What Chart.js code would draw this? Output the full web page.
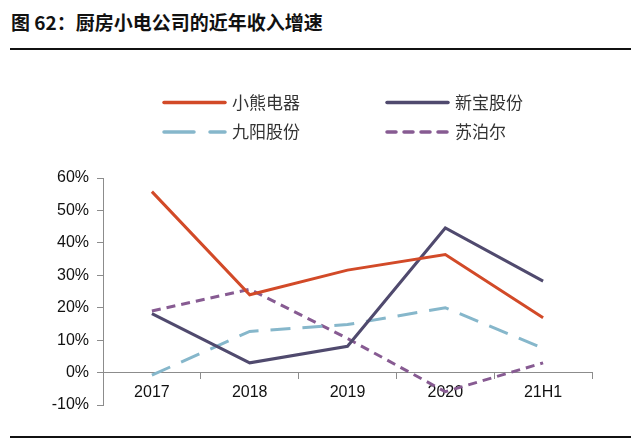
<!DOCTYPE html>
<html><head><meta charset="utf-8">
<script src="https://cdn.jsdelivr.net/npm/chart.js@4"></script>
<style>
html,body{margin:0;padding:0;background:#fff;}
#wrap{position:relative;width:641px;height:443px;overflow:hidden;}
#title{position:absolute;left:11px;top:8px;font-family:"Noto Sans CJK SC","Liberation Sans",sans-serif;font-weight:bold;font-size:19px;color:#111;letter-spacing:0px;}
.rule{position:absolute;left:10px;width:621px;height:2px;background:#111;}
canvas{position:absolute;left:0;top:0;}
</style></head>
<body><div id="wrap">
<div id="title">图 62：厨房小电公司的近年收入增速</div>
<div class="rule" style="top:48px"></div>
<div class="rule" style="top:436px"></div>
<canvas id="c" width="641" height="443"></canvas>
</div>
<script>
const categories = ['2017','2018','2019','2020','21H1'];
const xiaoxiong = [55.8, 24.0, 31.6, 36.4, 16.9];
const xinbao = [18.2, 3.0, 8.1, 44.6, 28.2];
const jiuyang = [-0.8, 12.7, 14.8, 20.0, 7.5];
const supor = [19.0, 25.7, 10.5, -5.9, 3.0];
const seriesNames = ['小熊电器','新宝股份','九阳股份','苏泊尔'];
const yTicks = [-10, 0, 10, 20, 30, 40, 50, 60];

const latin = '"Liberation Sans", Arial, sans-serif';
const cjk = '"Noto Sans CJK SC", sans-serif';

const legendPlugin = {
  id: 'customLegend',
  afterDraw(chart) {
    const ctx = chart.ctx;
    const pos = [[164, 102.5], [387, 102.5], [164, 132], [387, 132]];
    chart.data.datasets.forEach((ds, i) => {
      const [x, y] = pos[i];
      ctx.save();
      ctx.strokeStyle = ds.borderColor;
      ctx.lineWidth = 3.5;
      ctx.lineCap = 'round';
      ctx.setLineDash(ds.legendDash || []);
      ctx.beginPath();
      ctx.moveTo(x, y);
      ctx.lineTo(x + 61, y);
      ctx.stroke();
      ctx.setLineDash([]);
      ctx.fillStyle = '#333';
      ctx.font = '17px ' + cjk;
      ctx.textBaseline = 'middle';
      ctx.textAlign = 'left';
      ctx.fillText(ds.label, x + 68, y);
      ctx.restore();
    });
  }
};

new Chart(document.getElementById('c'), {
  type: 'line',
  data: {
    labels: categories,
    datasets: [
      {label: seriesNames[0], data: xiaoxiong, borderColor: '#D24A28', borderWidth: 3, pointRadius: 0, tension: 0},
      {label: seriesNames[1], data: xinbao, borderColor: '#504A6E', borderWidth: 3, pointRadius: 0, tension: 0},
      {label: seriesNames[2], data: jiuyang, borderColor: '#86B7CB', borderWidth: 3, pointRadius: 0, tension: 0, borderDash: [20, 12], legendDash: [30, 16]},
      {label: seriesNames[3], data: supor, borderColor: '#875B92', borderWidth: 3, pointRadius: 0, tension: 0, borderDash: [9, 6], legendDash: [9, 8]}
    ]
  },
  options: {
    responsive: false,
    animation: false,
    devicePixelRatio: 1,
    layout: {padding: {left: 0, right: 49, top: 178, bottom: 38}},
    plugins: {legend: {display: false}, tooltip: {enabled: false}},
    scales: {
      x: {
        position: {y: 0},
        offset: true,
        grid: {offset: true, drawOnChartArea: false, drawTicks: true, tickLength: 6, color: '#8c8c8c', lineWidth: 1},
        border: {display: true, color: '#8c8c8c', width: 1},
        ticks: {color: '#111', font: {family: latin, size: 16}, padding: 4}
      },
      y: {
        min: -10, max: 60,
        afterFit: s => { s.width = 103; },
        afterBuildTicks: s => { s.ticks = yTicks.map(v => ({value: v})); },
        grid: {drawOnChartArea: false, drawTicks: true, tickLength: 6, color: '#8c8c8c'},
        border: {display: true, color: '#8c8c8c', width: 1},
        ticks: {color: '#111', font: {family: latin, size: 16}, padding: 8, callback: v => v + '%'}
      }
    }
  },
  plugins: [legendPlugin]
});
</script>
</body></html>
